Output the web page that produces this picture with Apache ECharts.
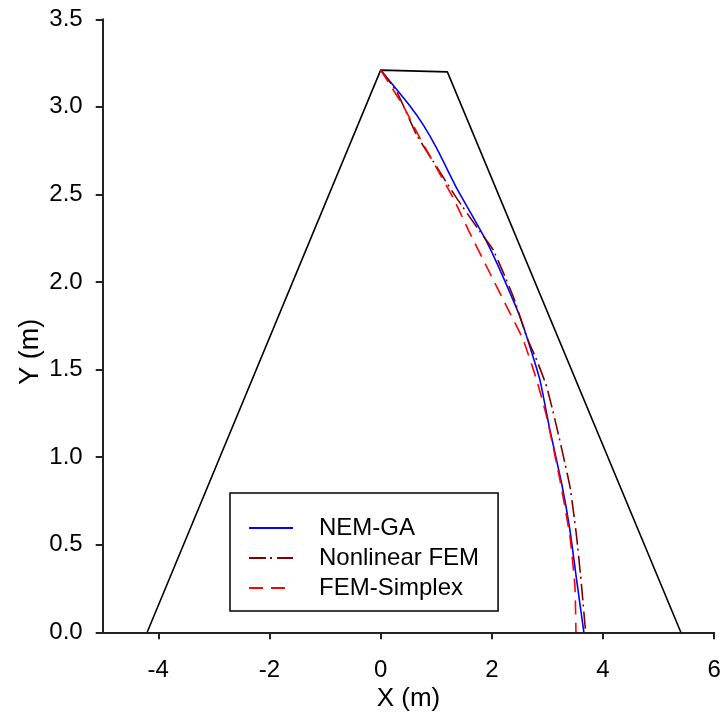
<!DOCTYPE html>
<html>
<head>
<meta charset="utf-8">
<script src="https://cdn.jsdelivr.net/npm/echarts@6/dist/echarts.min.js"></script>
<style>html,body{margin:0;padding:0;background:#fff}#c{width:725px;height:714px}</style>
</head>
<body>
<div id="c"></div>
<script>
// Dam outline
const outlineX = [-4.2, 0, 1.2, 5.4];
const outlineY = [0, 3.21, 3.2, 0];
// NEM-GA
const nemX = [0, 0.527, 0.766, 1.007, 1.367, 1.606, 1.906, 2.146, 2.505, 2.685, 2.865, 3.045, 3.255, 3.405, 3.525, 3.656];
const nemY = [3.21, 3.005, 2.897, 2.764, 2.536, 2.402, 2.231, 2.069, 1.802, 1.631, 1.441, 1.155, 0.851, 0.584, 0.299, 0];
// Nonlinear FEM
const nlX = [0, 0.288, 0.647, 0.946, 1.367, 1.786, 2.025, 2.385, 2.626, 2.806, 2.986, 3.165, 3.405, 3.525, 3.615, 3.687];
const nlY = [3.21, 3.087, 2.84, 2.688, 2.479, 2.288, 2.183, 1.917, 1.688, 1.555, 1.403, 1.174, 0.832, 0.546, 0.26, 0];
// FEM-Simplex
const fsX = [0, 0.406, 0.707, 1.007, 1.306, 1.576, 1.966, 2.266, 2.565, 2.806, 2.986, 3.225, 3.405, 3.495, 3.513];
const fsY = [3.21, 3.005, 2.821, 2.65, 2.479, 2.298, 2.05, 1.86, 1.669, 1.441, 1.231, 0.87, 0.546, 0.26, 0];
const xTicks = [-4, -2, 0, 2, 4, 6];
const seriesNames = ['NEM-GA', 'Nonlinear FEM', 'FEM-Simplex'];

const zip = (xs, ys) => xs.map((x, i) => [x, ys[i]]);
const font = 'Arial, "Liberation Sans", sans-serif';

const chart = echarts.init(document.getElementById('c'), null, {renderer: 'canvas'});
chart.setOption({
  animation: false,
  backgroundColor: '#fff',
  grid: {left: 102.7, right: 10.8, top: 19.3, bottom: 81.7, containLabel: false, outerBoundsMode: 'none'},
  xAxis: {
    type: 'value', min: -5, max: 6,
    name: 'X (m)', nameLocation: 'middle', nameGap: 54, nameMoveOverlap: false,
    nameTextStyle: {fontSize: 26, color: '#000', fontFamily: font},
    axisLine: {show: true, onZero: false, lineStyle: {color: '#222', width: 2}},
    axisTick: {show: true, inside: false, length: 7, lineStyle: {color: '#222', width: 2}, customValues: xTicks},
    axisLabel: {margin: 26, fontSize: 24, color: '#000', fontFamily: font, customValues: xTicks, showMaxLabel: true, showMinLabel: true},
    splitLine: {show: false}
  },
  yAxis: {
    type: 'value', min: 0, max: 3.5, interval: 0.5,
    name: 'Y (m)', nameLocation: 'middle', nameGap: 59, nameMoveOverlap: false,
    nameTextStyle: {fontSize: 27, color: '#000', fontFamily: font, padding: [0, 52, 0, 0]},
    axisLine: {show: true, onZero: false, lineStyle: {color: '#222', width: 2}},
    axisTick: {show: true, inside: false, length: 7, lineStyle: {color: '#222', width: 2}},
    axisLabel: {margin: 20, fontSize: 24, color: '#000', fontFamily: font, formatter: v => v.toFixed(1)},
    splitLine: {show: false}
  },
  legend: {
    data: seriesNames,
    orient: 'vertical',
    left: 230, top: 493,
    padding: [23, 19, 11, 18],
    itemWidth: 44, itemHeight: 12, itemGap: 6,
    borderColor: '#000', borderWidth: 1.5, borderRadius: 0,
    itemStyle: {opacity: 0},
    textStyle: {fontSize: 24, lineHeight: 24, color: '#000', fontFamily: font, padding: [0, 0, 0, 21]}
  },
  series: [
    {type: 'line', name: 'outline', data: zip(outlineX, outlineY), showSymbol: false, symbol: 'none',
     lineStyle: {color: '#000', width: 1.6}, silent: true},
    {type: 'line', name: seriesNames[0], data: zip(nemX, nemY), symbol: 'none', smooth: 0.15,
     color: '#0000FF', lineStyle: {color: '#0000FF', width: 1.6, type: 'solid'}},
    {type: 'line', name: seriesNames[1], data: zip(nlX, nlY), symbol: 'none', smooth: 0.15,
     color: '#800000', lineStyle: {color: '#800000', width: 1.6, type: [17, 4, 2, 5]}},
    {type: 'line', name: seriesNames[2], data: zip(fsX, fsY), symbol: 'none', smooth: 0.15,
     color: '#FF0000', lineStyle: {color: '#FF0000', width: 1.6, type: [14, 8]}}
  ]
});
</script>
</body>
</html>
